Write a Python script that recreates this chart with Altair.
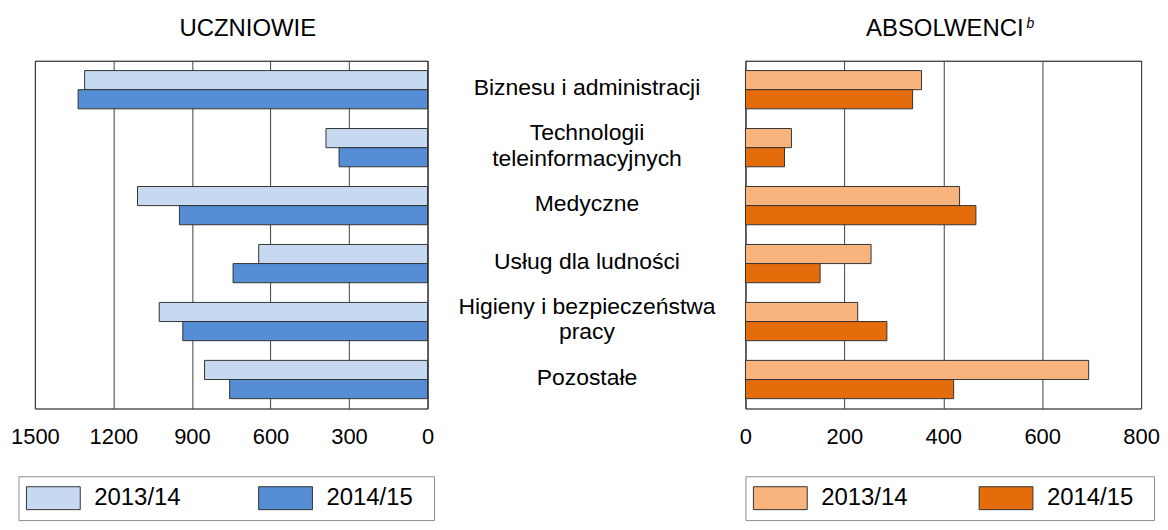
import altair as alt
import pandas as pd

categories = ["Biznesu i administracji", "Technologii teleinformacyjnych", "Medyczne",
              "Usług dla ludności", "Higieny i bezpieczeństwa pracy", "Pozostałe"]
category_labels = ["Biznesu i administracji", "Technologii\nteleinformacyjnych", "Medyczne",
                   "Usług dla ludności", "Higieny i bezpieczeństwa\npracy", "Pozostałe"]
years = ["2013/14", "2014/15"]

uczniowie_2013 = [1310, 388, 1108, 645, 1025, 852]
uczniowie_2014 = [1335, 338, 948, 743, 935, 756]
absolwenci_2013 = [356, 93, 433, 254, 227, 694]
absolwenci_2014 = [338, 79, 466, 151, 286, 421]

left_ticks = [0, 300, 600, 900, 1200, 1500]
right_ticks = [0, 200, 400, 600, 800]

FONT = "Liberation Sans"


def long_df(a, b):
    rows = []
    for c, v1, v2 in zip(categories, a, b):
        rows.append({"category": c, "year": years[0], "value": v1})
        rows.append({"category": c, "year": years[1], "value": v2})
    return pd.DataFrame(rows)


df_u = long_df(uczniowie_2013, uczniowie_2014)
df_a = long_df(absolwenci_2013, absolwenci_2014)
df_lab = pd.DataFrame({
    "category": categories,
    "label": category_labels,
    "lines": [lab.count("\n") + 1 for lab in category_labels],
})

band = alt.Scale(paddingInner=0.34, paddingOuter=0.17)
y_enc = alt.Y("category:N", sort=categories, axis=None, scale=band)
yoff_enc = alt.YOffset("year:N", sort=years, scale=alt.Scale(paddingInner=0, paddingOuter=0))

SYMBOL = "M-1.038,-0.885L3.115,-0.885L3.115,0.885L-1.038,0.885Z"


def legend(x, colpad):
    # invisible spacer title on the right widens the legend frame
    return alt.Legend(
        title=".", titleOrient="right", titleOpacity=0, titleFontSize=24, titlePadding=6,
        orient="none", legendX=x, legendY=417, direction="horizontal",
        symbolType=SYMBOL, symbolSize=676, symbolStrokeColor="#333333",
        symbolStrokeWidth=1, labelFont=FONT, labelFontSize=24, labelColor="black",
        labelOffset=41, columnPadding=colpad, padding=8, strokeColor="#8c8c8c",
        fillColor="white",
    )


def x_axis(values):
    return alt.Axis(values=values, grid=True, ticks=False, domain=False, title=None,
                    format="d", labelFont=FONT, labelFontSize=22, labelColor="black",
                    labelPadding=18, labelFlush=False, labelOverlap=False,
                    gridColor="#404040", gridWidth=1)


bars_u = alt.Chart(df_u).mark_bar(stroke="#333333", strokeWidth=1).encode(
    x=alt.X("value:Q", scale=alt.Scale(domain=[0, 1500], reverse=True, nice=False),
            axis=x_axis(left_ticks)),
    y=y_enc, yOffset=yoff_enc,
    color=alt.Color("year:N", scale=alt.Scale(domain=years, range=["#C6D9F1", "#558ED5"]),
                    legend=legend(-16.5, 76)),
)
title_u = alt.Chart(pd.DataFrame({"t": ["UCZNIOWIE"]})).mark_text(
    align="left", baseline="alphabetic", fontSize=24, font=FONT, color="black"
).encode(text="t:N", x=alt.value(145), y=alt.value(-25))

left = alt.layer(bars_u, title_u).properties(width=394, height=349)

lab_base = alt.Chart(df_lab).encode(y=y_enc, text="label:N", x=alt.value(151))
lab_one = lab_base.mark_text(
    align="center", baseline="middle", fontSize=23, font=FONT, color="black", dy=-2
).transform_filter("datum.lines == 1")
lab_two = lab_base.mark_text(
    align="center", baseline="middle", fontSize=23, font=FONT, color="black",
    lineBreak="\n", lineHeight=26, dy=-15
).transform_filter("datum.lines == 2")
middle = alt.layer(lab_one, lab_two).properties(
    width=302, height=349, view=alt.ViewBackground(stroke="transparent"))

bars_a = alt.Chart(df_a).mark_bar(stroke="#333333", strokeWidth=1).encode(
    x=alt.X("value:Q", scale=alt.Scale(domain=[0, 800], nice=False),
            axis=x_axis(right_ticks)),
    y=y_enc, yOffset=yoff_enc,
    color=alt.Color("year:N", scale=alt.Scale(domain=years, range=["#F9B47E", "#E46C0A"]),
                    legend=legend(0, 69.5)),
)
title_a = alt.Chart(pd.DataFrame({"t": ["ABSOLWENCI"]})).mark_text(
    align="left", baseline="alphabetic", fontSize=24, font=FONT, color="black"
).encode(text="t:N", x=alt.value(121), y=alt.value(-25))
sup_b = alt.Chart(pd.DataFrame({"t": ["b"]})).mark_text(
    align="left", baseline="alphabetic", fontSize=14, font=FONT, fontStyle="italic",
    color="black"
).encode(text="t:N", x=alt.value(282), y=alt.value(-32.5))

right = alt.layer(bars_a, title_a, sup_b).properties(width=397, height=349)

chart = alt.hconcat(left, middle, right, spacing=0).resolve_scale(
    color="independent", x="independent", y="independent"
).resolve_legend(color="independent").configure_view(
    stroke="black", strokeWidth=1
).properties(padding={"left": 2, "top": 7, "right": 0, "bottom": 0})

chart.save("out.html", embed_options={"renderer": "svg", "actions": False})
